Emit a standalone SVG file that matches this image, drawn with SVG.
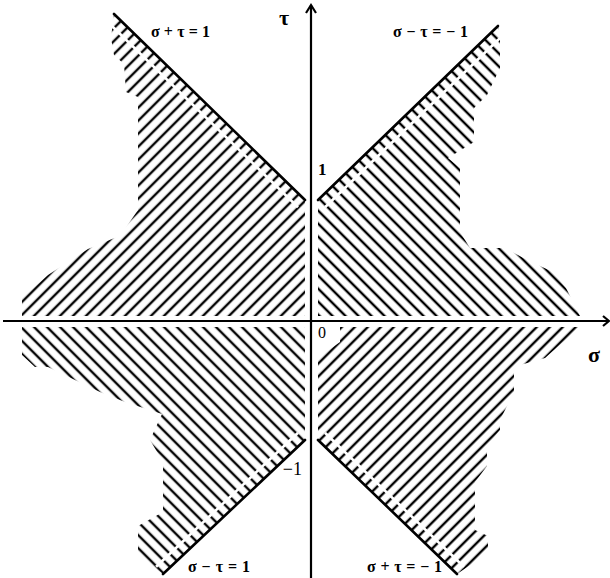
<svg xmlns="http://www.w3.org/2000/svg" width="610" height="578" viewBox="0 0 610 578">
<style>
.axis{stroke:#000;stroke-width:2.2;fill:none}
.bd{stroke:#000;stroke-width:2.6;fill:none;stroke-linecap:round}
.gap{stroke:#fff;stroke-width:2.6;fill:none}
.lbl{font-family:"Liberation Serif","DejaVu Serif",serif;font-weight:bold;fill:#000}
.num{font-family:"Liberation Serif","DejaVu Serif",serif;fill:#000}
</style>
<defs>
<pattern id="pUL" width="9.19" height="120" patternUnits="userSpaceOnUse" patternTransform="rotate(45) translate(3.89,0)"><rect x="3.4" y="0" width="2.4" height="120" fill="#000"/></pattern>
<pattern id="pLR" width="9.19" height="120" patternUnits="userSpaceOnUse" patternTransform="rotate(45) translate(-0.36,0)"><rect x="3.4" y="0" width="2.4" height="120" fill="#000"/></pattern>
<pattern id="pUR" width="9.19" height="120" patternUnits="userSpaceOnUse" patternTransform="rotate(-45) translate(-2.1,0)"><rect x="3.4" y="0" width="2.4" height="120" fill="#000"/></pattern>
<pattern id="pLL" width="9.19" height="120" patternUnits="userSpaceOnUse" patternTransform="rotate(-45) translate(-0.36,0)"><rect x="3.4" y="0" width="2.4" height="120" fill="#000"/></pattern>
</defs>

<g id="regions">
<polygon id="regionUL" fill="url(#pUL)" points="114,14 305,200 305,316 22,316 22,298 48,275 88,249 112,239 120,236 138,210 138,97 126,92 124,64 114,55 111,38"/>
<polygon id="regionUR" fill="url(#pUR)" points="318,200 498,26 500,40 500,68 487,95 474,108 474,142 448,158 460,168 460,232 470,248 505,248 527,260 553,272 566,288 580,316 318,316"/>
<polygon id="regionLL" fill="url(#pLL)" points="22,327 305,327 305,440 163,574 138,556 138,526 163,512 163,462 150,440 162,414 125,402 100,392 75,380 48,367 35,367 22,355"/>
<polygon id="regionLR" fill="url(#pLR)" points="340,327 580,327 545,358 520,365 514,372 514,392 500,420 500,430 487,446 487,466 475,482 475,530 488,536 488,553 457,574 318,440 318,358 340,342"/>
</g>

<g id="gaps">
<line class="gap" x1="107" y1="21.2" x2="298" y2="207.2"/>
<line class="gap" x1="325" y1="207.2" x2="505" y2="33.2"/>
<line class="gap" x1="298.1" y1="432.7" x2="156.1" y2="566.7"/>
<line class="gap" x1="324.9" y1="432.8" x2="463.9" y2="566.8"/>
</g>

<g id="boundaries">
<line id="lineUL" class="bd" x1="114" y1="14" x2="305" y2="200"/>
<line id="lineUR" class="bd" x1="318" y1="200" x2="498" y2="26"/>
<line id="lineLL" class="bd" x1="305" y1="440" x2="163" y2="574"/>
<line id="lineLR" class="bd" x1="318" y1="440" x2="457" y2="574"/>
</g>

<g id="axes">
<line class="axis" x1="311" y1="5" x2="311" y2="578"/>
<polyline class="axis" points="306,13 311,5 316,13"/>
<line class="axis" x1="3" y1="321" x2="609" y2="321"/>
<polyline class="axis" points="603,316 609,321 603,326"/>
</g>

<g id="labels">
<text class="lbl" x="279" y="25" font-size="22">τ</text>
<text class="lbl" x="588" y="362" font-size="22">σ</text>
<text class="lbl" x="151" y="37" font-size="16" textLength="59" lengthAdjust="spacing">σ+τ=1</text>
<text class="lbl" x="393" y="37" font-size="16" textLength="75" lengthAdjust="spacing">σ−τ=−1</text>
<text class="lbl" x="188" y="572" font-size="16" textLength="62" lengthAdjust="spacing">σ−τ=1</text>
<text class="lbl" x="367" y="572" font-size="16" textLength="75" lengthAdjust="spacing">σ+τ=−1</text>
<text class="lbl" x="318" y="175" font-size="17">1</text>
<text class="num" x="318" y="338" font-size="16">0</text>
<text class="num" x="302" y="475" font-size="18" text-anchor="end">−1</text>
</g>
</svg>
